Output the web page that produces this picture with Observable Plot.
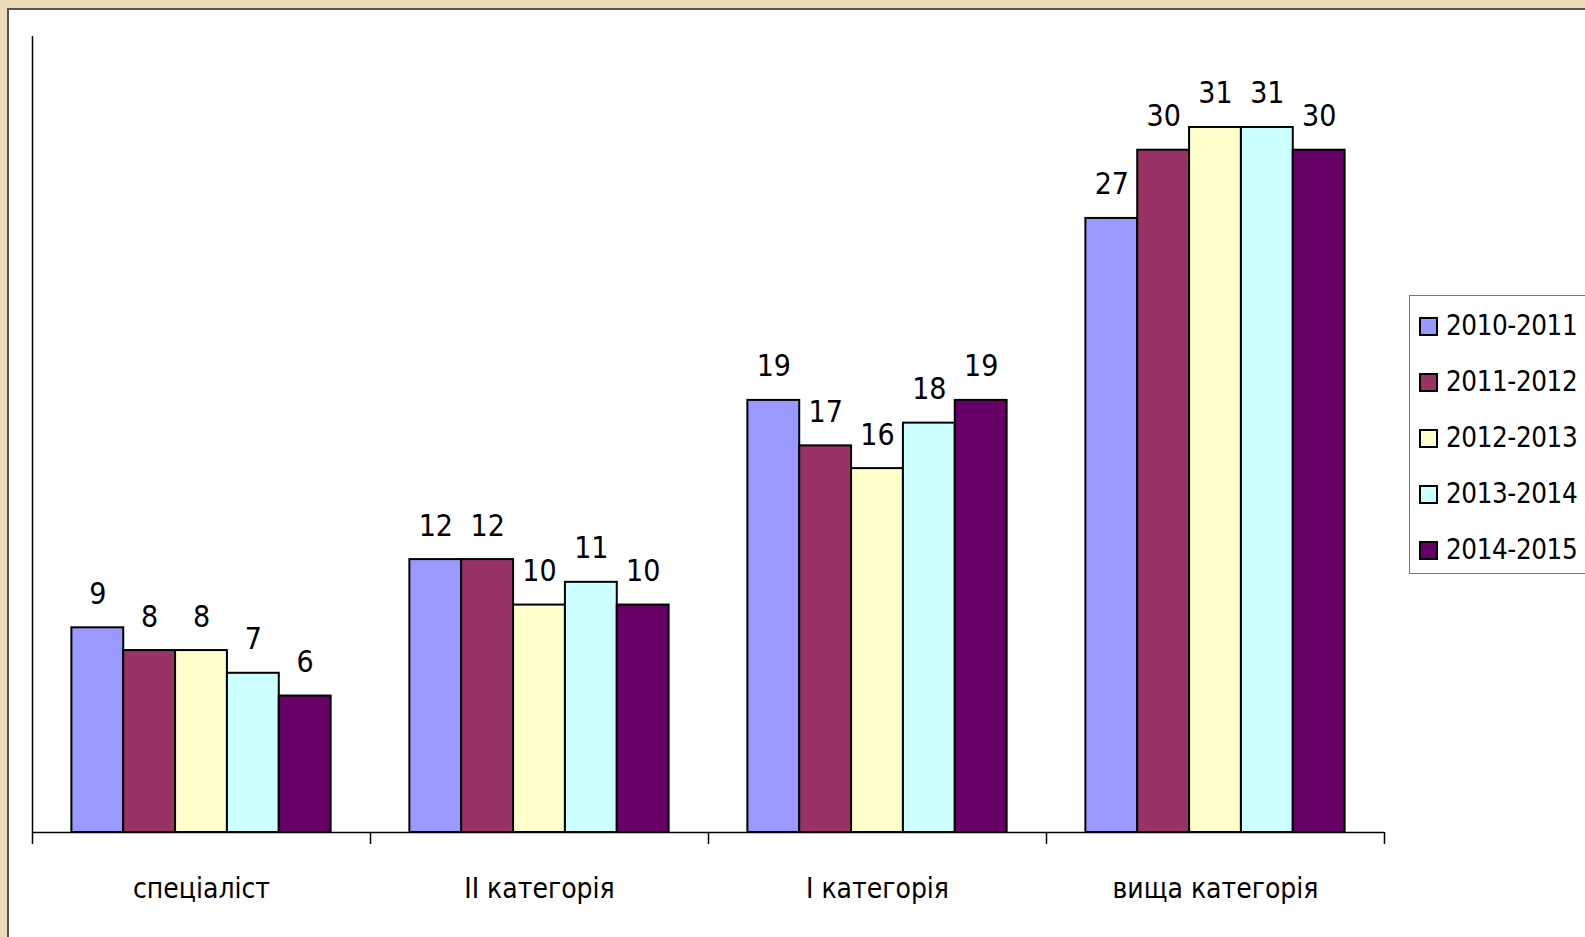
<!DOCTYPE html>
<html>
<head>
<meta charset="utf-8">
<script src="https://cdn.jsdelivr.net/npm/d3@7"></script>
<script src="https://cdn.jsdelivr.net/npm/@observablehq/plot@0.6"></script>
<style>
  html, body { margin: 0; padding: 0; width: 1585px; height: 937px; overflow: hidden; }
  body { background: #eadcb9; position: relative; font-family: "DejaVu Sans Condensed", "DejaVu Sans", sans-serif; }
  #panel { position: absolute; left: 7px; top: 8px; width: 1600px; height: 950px; background: #fff;
           border-top: 2px solid #555; border-left: 2px solid #555; }
  #chart { position: absolute; left: 0; top: 0; }
  #legend { position: absolute; left: 1409px; top: 295px; width: 220px; height: 279px; box-sizing: border-box;
            border: 1px solid #777; background: #fff; padding-top: 2px; }
  .row { height: 56px; display: flex; align-items: center; }
  .sw { width: 15px; height: 15px; border: 2px solid #000; margin-left: 9px; margin-right: 8px; }
  .lab { font-size: 27.5px; letter-spacing: -0.4px; color: #000; line-height: 1; }
</style>
</head>
<body>
<div id="panel"></div>
<div id="chart"></div>
<div id="legend"></div>
<script>
const categories = ["спеціаліст", "II категорія", "I категорія", "вища категорія"];
const series = ["2010-2011", "2011-2012", "2012-2013", "2013-2014", "2014-2015"];
const v2010_2011 = [9, 12, 19, 27];
const v2011_2012 = [8, 12, 17, 30];
const v2012_2013 = [8, 10, 16, 31];
const v2013_2014 = [7, 11, 18, 31];
const v2014_2015 = [6, 10, 19, 30];
const colors = ["#9999FF", "#993366", "#FFFFCC", "#CCFFFF", "#660066"];

const seriesValues = [v2010_2011, v2011_2012, v2012_2013, v2013_2014, v2014_2015];
const rows = [];
categories.forEach((c, ci) => {
  series.forEach((s, si) => {
    rows.push({category: c, ci, series: s, si, value: seriesValues[si][ci]});
  });
});

// grouped layout within each category band (fractions of the band)
const groupFrac = 0.767;
const barFrac = groupFrac / series.length;
const startFrac = (1 - groupFrac) / 2;
const x1 = d => d.ci + startFrac + d.si * barFrac;
const x2 = d => d.ci + startFrac + (d.si + 1) * barFrac;
const xc = d => d.ci + startFrac + (d.si + 0.5) * barFrac;

const chart = Plot.plot({
  width: 1585,
  height: 937,
  marginLeft: 32,
  marginRight: 201,
  marginTop: 36,
  marginBottom: 105,
  style: {background: "transparent", fontFamily: "'DejaVu Sans Condensed', 'DejaVu Sans', sans-serif"},
  x: {domain: [0, categories.length], axis: null},
  y: {domain: [0, 35], axis: null},
  color: {domain: series, range: colors},
  marks: [
    Plot.rectY(rows, {x1, x2, y1: 0, y2: "value", fill: "series", stroke: "#000", strokeWidth: 2}),
    Plot.ruleY([0], {stroke: "#000", strokeWidth: 1.5}),
    Plot.ruleX([0], {stroke: "#000", strokeWidth: 1.5}),
    Plot.axisX({ticks: d3.range(categories.length + 1), tickSize: 12, tickFormat: () => "", stroke: "#000", strokeWidth: 1.5, strokeOpacity: 1, anchor: "bottom"}),
    Plot.text(rows, {x: xc, y: "value", text: d => String(d.value), dy: -24, lineAnchor: "bottom", fontSize: 30, fill: "#000"}),
    Plot.text(categories, {x: (d, i) => i + 0.5, frameAnchor: "bottom", dy: 65, lineAnchor: "bottom", text: d => d, fontSize: 28, fill: "#000"})
  ]
});
document.getElementById("chart").appendChild(chart);

const legend = document.getElementById("legend");
series.forEach((s, i) => {
  const row = document.createElement("div");
  row.className = "row";
  const sw = document.createElement("div");
  sw.className = "sw";
  sw.style.background = colors[i];
  const lab = document.createElement("span");
  lab.className = "lab";
  lab.textContent = s;
  row.appendChild(sw);
  row.appendChild(lab);
  legend.appendChild(row);
});
</script>
</body>
</html>
